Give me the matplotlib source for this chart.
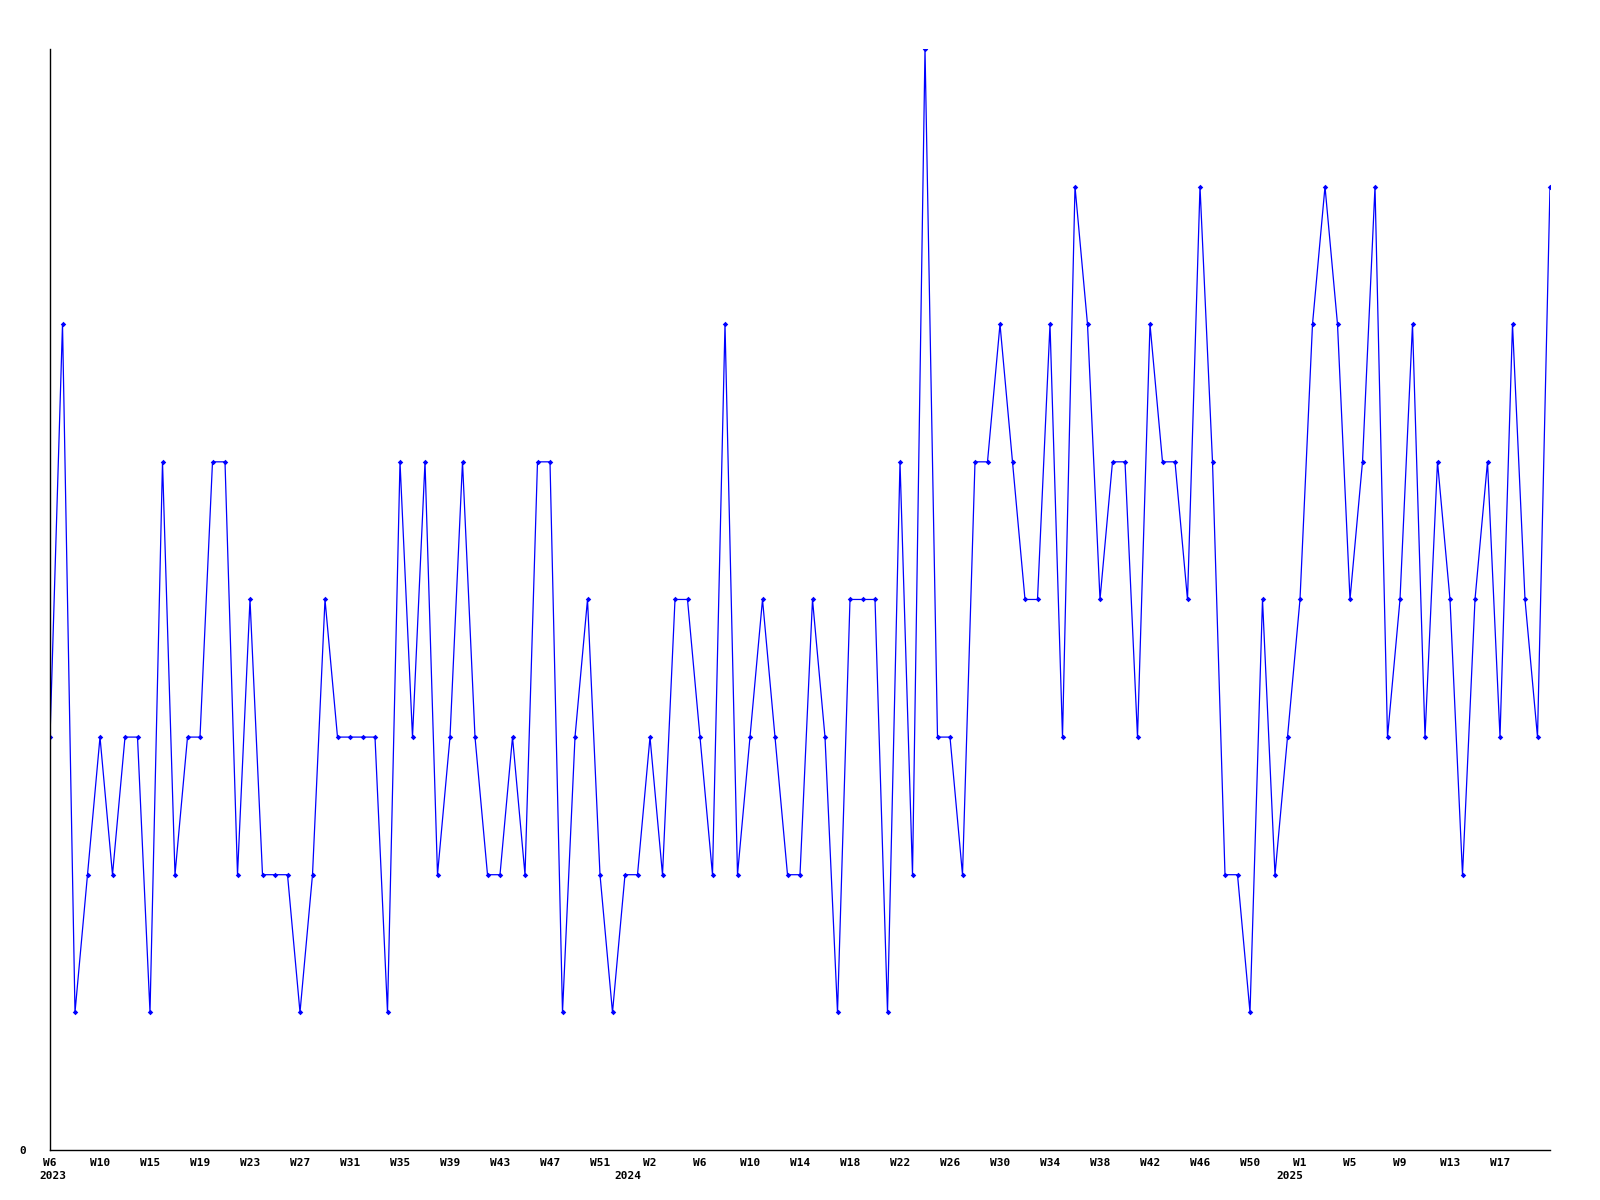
import numpy as np
import matplotlib
matplotlib.use("Agg")
import matplotlib.pyplot as plt
import matplotlib.transforms as mtransforms

# weekly counts, 2023 W6 .. 2025
values = [3, 6, 1, 2, 3, 2, 3, 3, 1, 5,
          2, 3, 3, 5, 5, 2, 4, 2, 2, 2,
          1, 2, 4, 3, 3, 3, 3, 1, 5, 3,
          5, 2, 3, 5, 3, 2, 2, 3, 2, 5,
          5, 1, 3, 4, 2, 1, 2, 2, 3, 2,
          4, 4, 3, 2, 6, 2, 3, 4, 3, 2,
          2, 4, 3, 1, 4, 4, 4, 1, 5, 2,
          8, 3, 3, 2, 5, 5, 6, 5, 4, 4,
          6, 3, 7, 6, 4, 5, 5, 3, 6, 5,
          5, 4, 7, 5, 2, 2, 1, 4, 2, 3,
          4, 6, 7, 6, 4, 5, 7, 3, 4, 6,
          3, 5, 4, 2, 4, 5, 3, 6, 4, 3,
          7]

week_labels = ["W6", "W10", "W15", "W19", "W23", "W27", "W31", "W35", "W39", "W43",
               "W47", "W51", "W2", "W6", "W10", "W14", "W18", "W22", "W26", "W30",
               "W34", "W38", "W42", "W46", "W50", "W1", "W5", "W9", "W13", "W17"]
year_labels = ["2023", "2024", "2025"]
year_pos = [0.25, 46.2, 99.2]

x = np.arange(len(values))

fig = plt.figure(figsize=(16, 12), dpi=100)
ax = fig.add_axes([0.03125, 0.0417, 0.9375, 0.9175])

ax.plot(x, values, color="#0000ff", lw=0.9, marker="D", markersize=2.8,
        markeredgewidth=0, clip_on=True)

ax.set_xlim(0, len(values) - 1)
ax.set_ylim(0, 8)

for s in ["top", "right"]:
    ax.spines[s].set_visible(False)
for s in ["left", "bottom"]:
    ax.spines[s].set_color("black")
    ax.spines[s].set_linewidth(1.0)

font = dict(family="DejaVu Sans Mono", weight="bold", size=8)

ax.set_xticks(x[::4][:len(week_labels)])
ax.set_xticklabels(week_labels, fontdict=font)
ax.tick_params(axis="x", length=0, pad=6)
ax.set_yticks([0])
ax.set_yticklabels(["0"], fontdict=font)
ax.tick_params(axis="y", length=0, pad=17)

trans = mtransforms.blended_transform_factory(ax.transData, ax.transAxes)
for lab, p in zip(year_labels, year_pos):
    ax.text(p, -0.024, lab, transform=trans, ha="center", va="center", **font)

fig.savefig("out.png", dpi=100)
